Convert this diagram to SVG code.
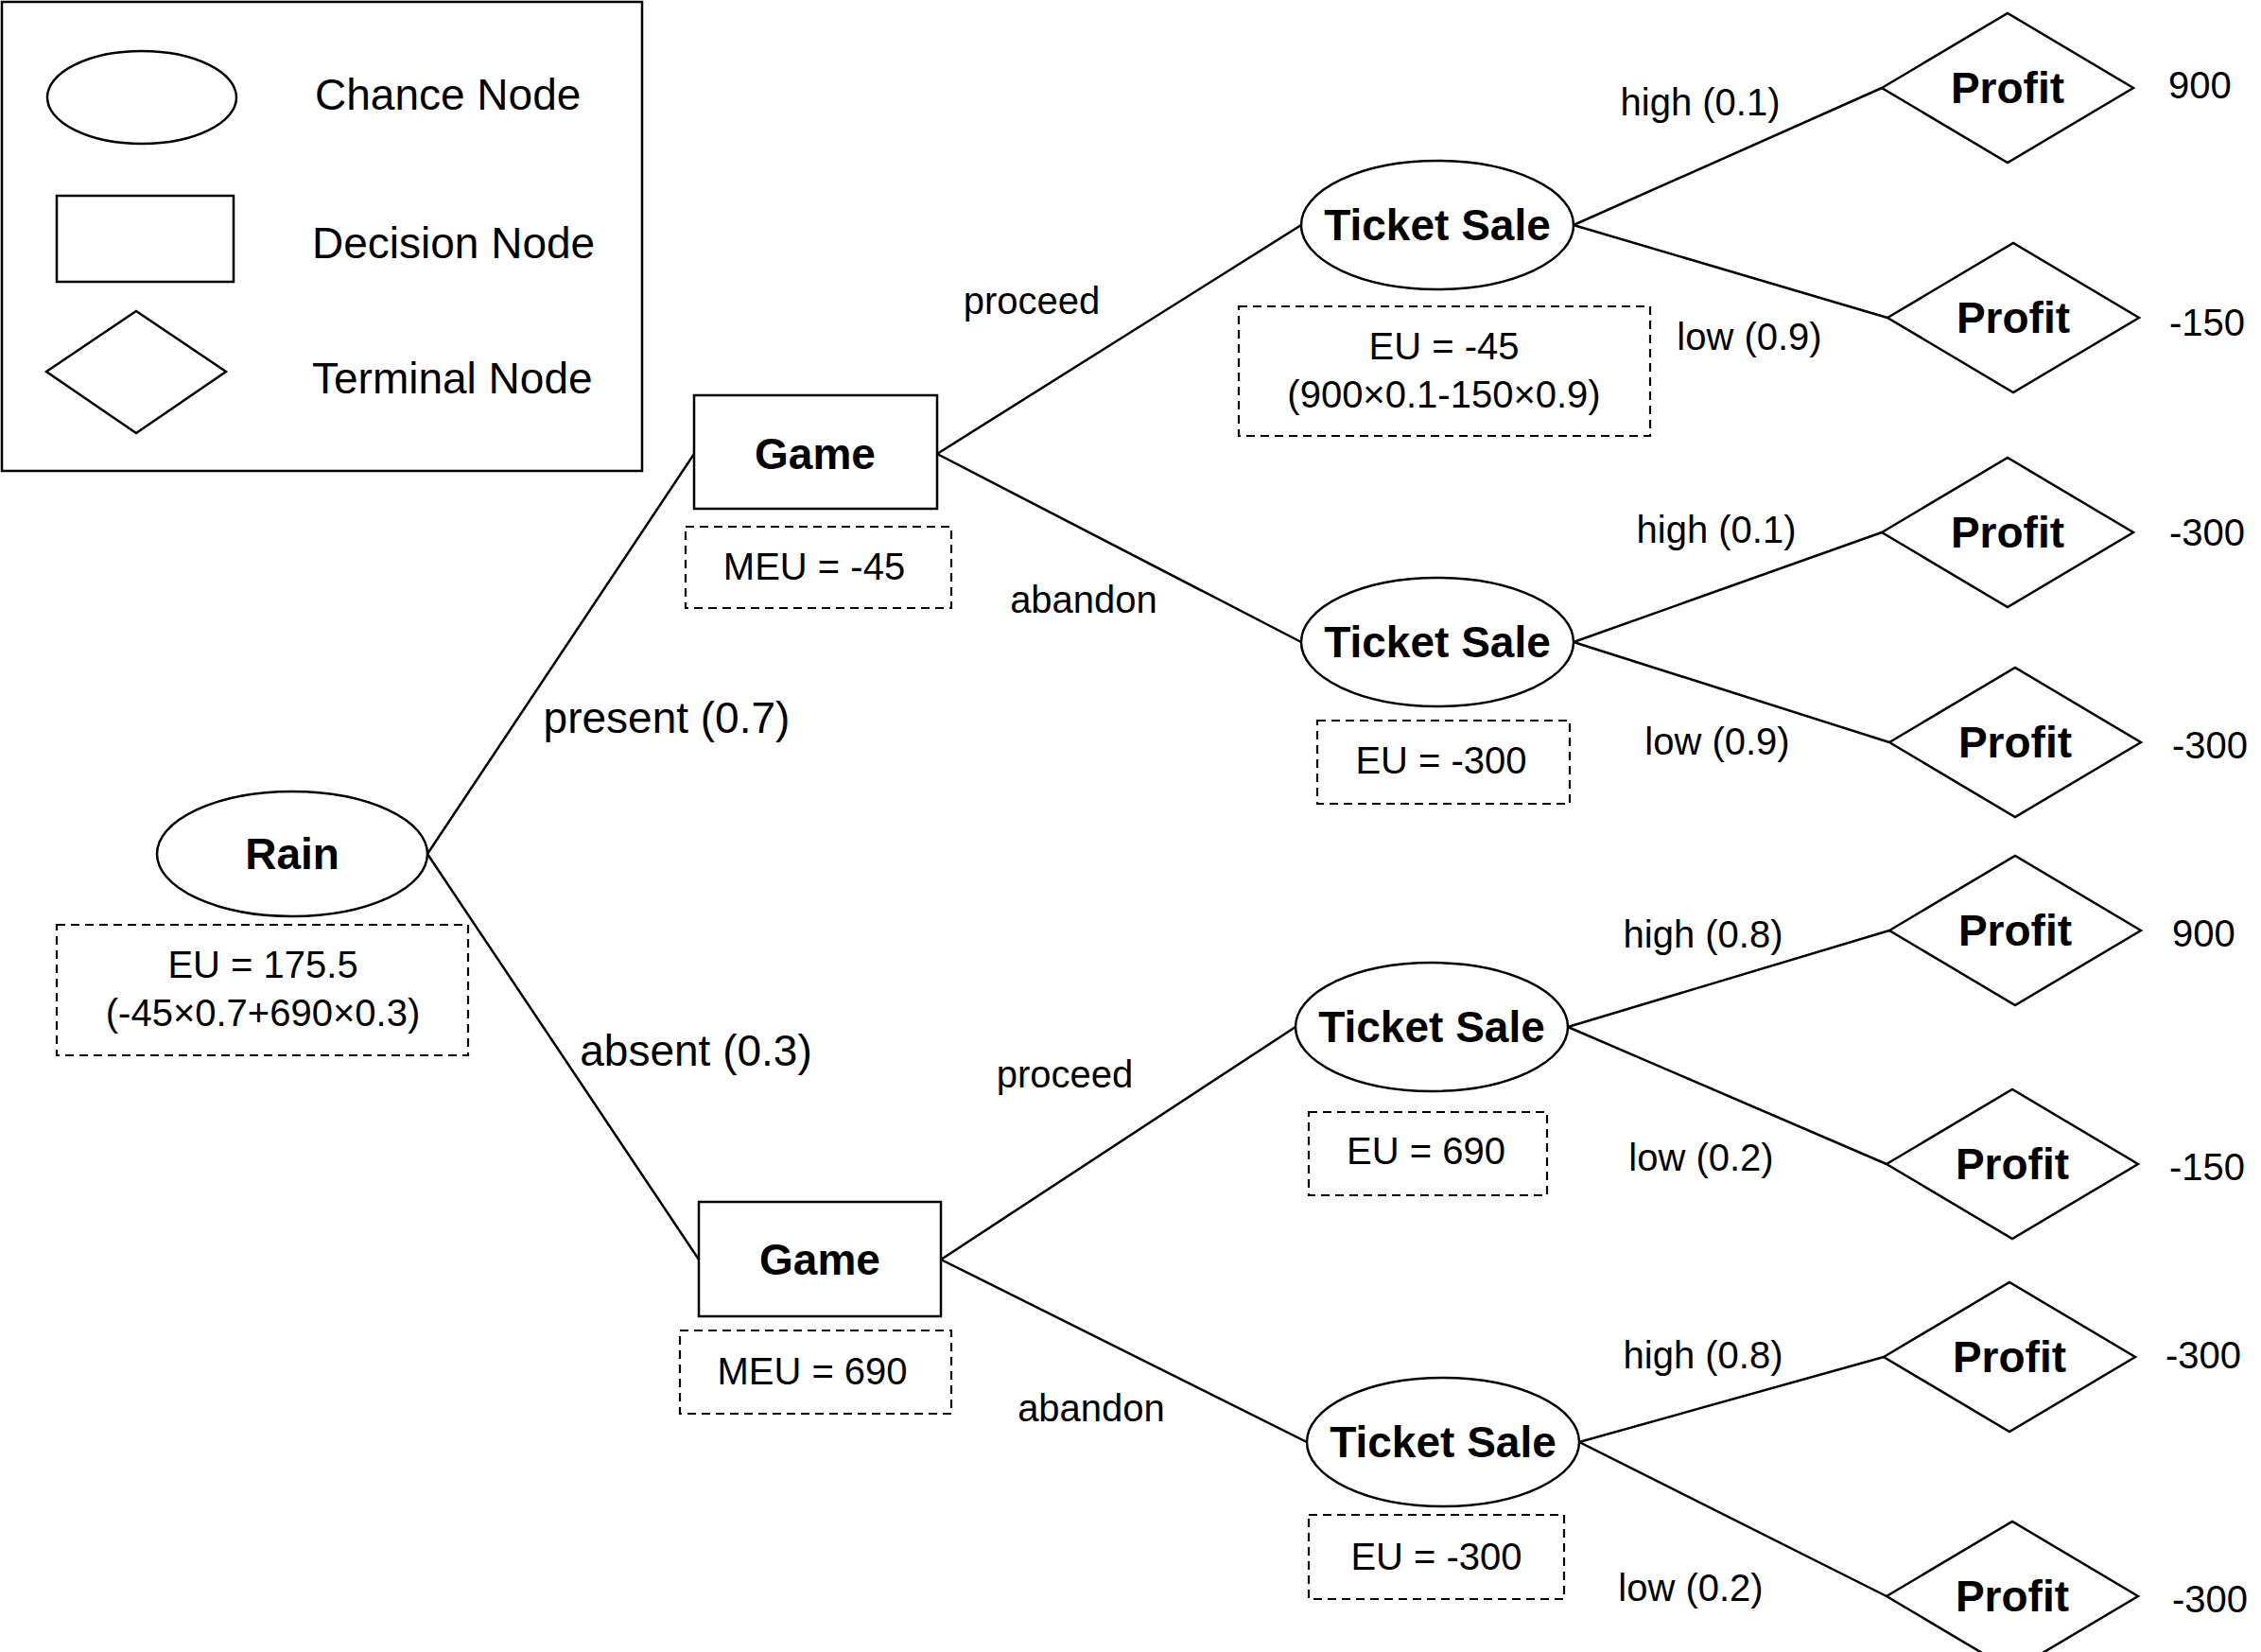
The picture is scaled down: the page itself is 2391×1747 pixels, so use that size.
<svg xmlns="http://www.w3.org/2000/svg" width="2391" height="1747" viewBox="0 0 2391 1747">
<style>
.s{fill:#fff;stroke:#000;stroke-width:2.5}
.d{fill:none;stroke:#000;stroke-width:2.2;stroke-dasharray:9,6}
.l{stroke:#000;stroke-width:2.5;fill:none}
text{font-family:"Liberation Sans",Arial,sans-serif;fill:#000;dominant-baseline:central}
.b{font-weight:bold;font-size:46px;text-anchor:middle}
.m{font-size:40px;text-anchor:middle}
.g{font-size:46px}
.v{font-size:40px}
</style>
<rect width="2391" height="1747" fill="#fff"/>
<g id="legend">
<rect class="s" x="2" y="2" width="677" height="496"/>
<ellipse class="s" cx="150" cy="103" rx="100" ry="49"/>
<rect class="s" x="60" y="207" width="187" height="91"/>
<polygon class="s" points="49,393 144,329 239,393 144,458"/>
<text class="g" x="333" y="100">Chance Node</text>
<text class="g" x="330" y="257">Decision Node</text>
<text class="g" x="330" y="400">Terminal Node</text>
</g>
<g id="connectors">
<path class="l" d="M452,903L734,480M452,903L739,1332M991,480L1376,238M991,480L1376,679M995,1332L1370,1086M995,1332L1382,1525M1664,238L1990,93M1664,238L1996,336M1664,679L1990,563M1664,679L1998,785M1658,1086L1998,984M1658,1086L1995,1231M1670,1525L1992,1435M1670,1525L1995,1688"/>
<text class="g" x="705" y="759" text-anchor="middle">present (0.7)</text>
<text class="g" x="736" y="1111" text-anchor="middle">absent (0.3)</text>
<text class="m" x="1091" y="318">proceed</text>
<text class="m" x="1146" y="634">abandon</text>
<text class="m" x="1126" y="1136">proceed</text>
<text class="m" x="1154" y="1489">abandon</text>
<text class="m" x="1798" y="108">high (0.1)</text>
<text class="m" x="1850" y="356">low (0.9)</text>
<text class="m" x="1815" y="560">high (0.1)</text>
<text class="m" x="1816" y="784">low (0.9)</text>
<text class="m" x="1801" y="988">high (0.8)</text>
<text class="m" x="1799" y="1224">low (0.2)</text>
<text class="m" x="1801" y="1433">high (0.8)</text>
<text class="m" x="1788" y="1679">low (0.2)</text>
</g>
<g id="rain">
<ellipse class="s" cx="309" cy="903" rx="143" ry="66"/>
<text class="b" x="309" y="903">Rain</text>
<rect class="d" x="60" y="978" width="435" height="138"/>
<text class="m" x="278" y="1020">EU = 175.5</text>
<text class="m" x="278" y="1071">(-45×0.7+690×0.3)</text>
</g>
<g id="game1">
<rect class="s" x="734" y="418" width="257" height="120"/>
<text class="b" x="862" y="480">Game</text>
<rect class="d" x="725" y="557" width="281" height="86"/>
<text class="m" x="861" y="599">MEU = -45</text>
</g>
<g id="game2">
<rect class="s" x="739" y="1271" width="256" height="121"/>
<text class="b" x="867" y="1332">Game</text>
<rect class="d" x="719" y="1407" width="287" height="88"/>
<text class="m" x="859" y="1450">MEU = 690</text>
</g>
<g id="ts1">
<ellipse class="s" cx="1520" cy="238" rx="144" ry="68"/>
<text class="b" x="1520" y="238">Ticket Sale</text>
<rect class="d" x="1310" y="324" width="435" height="137"/>
<text class="m" x="1527" y="366">EU = -45</text>
<text class="m" x="1527" y="417">(900×0.1-150×0.9)</text>
</g>
<g id="ts2">
<ellipse class="s" cx="1520" cy="679" rx="144" ry="68"/>
<text class="b" x="1520" y="679">Ticket Sale</text>
<rect class="d" x="1393" y="762" width="267" height="88"/>
<text class="m" x="1524" y="804">EU = -300</text>
</g>
<g id="ts3">
<ellipse class="s" cx="1514" cy="1086" rx="144" ry="68"/>
<text class="b" x="1514" y="1086">Ticket Sale</text>
<rect class="d" x="1384" y="1176" width="252" height="88"/>
<text class="m" x="1508" y="1217">EU = 690</text>
</g>
<g id="ts4">
<ellipse class="s" cx="1526" cy="1525" rx="144" ry="68"/>
<text class="b" x="1526" y="1525">Ticket Sale</text>
<rect class="d" x="1384" y="1602" width="270" height="89"/>
<text class="m" x="1519" y="1646">EU = -300</text>
</g>
<g id="p1"><polygon class="s" points="1990,93 2123,14 2256,93 2123,172"/><text class="b" x="2123" y="93">Profit</text><text class="v" x="2293" y="90">900</text></g>
<g id="p2"><polygon class="s" points="1996,336 2129,257 2262,336 2129,415"/><text class="b" x="2129" y="336">Profit</text><text class="v" x="2294" y="341">-150</text></g>
<g id="p3"><polygon class="s" points="1990,563 2123,484 2256,563 2123,642"/><text class="b" x="2123" y="563">Profit</text><text class="v" x="2294" y="563">-300</text></g>
<g id="p4"><polygon class="s" points="1998,785 2131,706 2264,785 2131,864"/><text class="b" x="2131" y="785">Profit</text><text class="v" x="2297" y="788">-300</text></g>
<g id="p5"><polygon class="s" points="1998,984 2131,905 2264,984 2131,1063"/><text class="b" x="2131" y="984">Profit</text><text class="v" x="2297" y="987">900</text></g>
<g id="p6"><polygon class="s" points="1995,1231 2128,1152 2261,1231 2128,1310"/><text class="b" x="2128" y="1231">Profit</text><text class="v" x="2294" y="1234">-150</text></g>
<g id="p7"><polygon class="s" points="1992,1435 2125,1356 2258,1435 2125,1514"/><text class="b" x="2125" y="1435">Profit</text><text class="v" x="2290" y="1433">-300</text></g>
<g id="p8"><polygon class="s" points="1995,1688 2128,1609 2261,1688 2128,1767"/><text class="b" x="2128" y="1688">Profit</text><text class="v" x="2297" y="1691">-300</text></g>
</svg>
